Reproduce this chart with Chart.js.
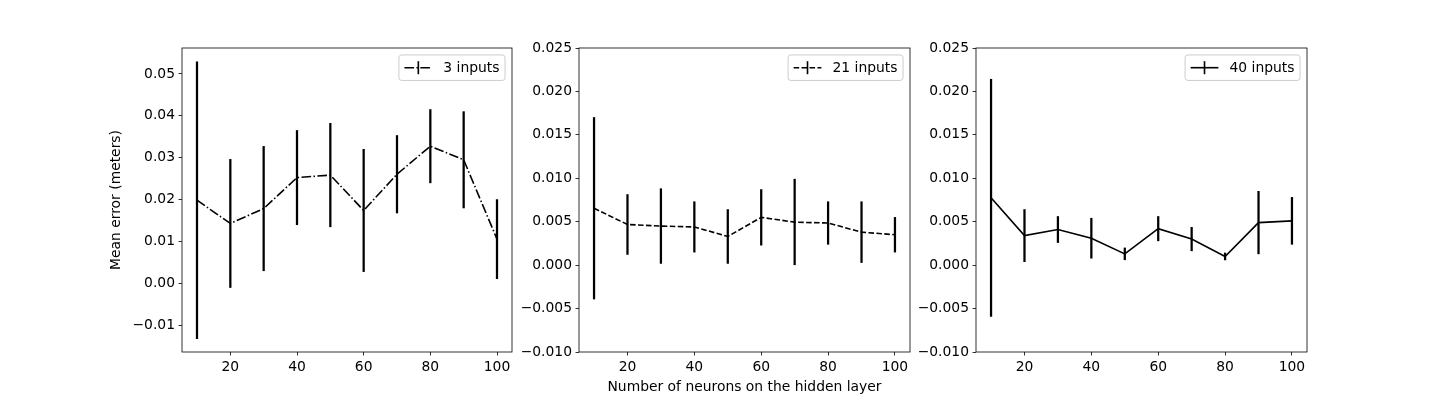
<!DOCTYPE html>
<html><head><meta charset="utf-8">
<script src="https://cdn.jsdelivr.net/npm/chart.js@4/dist/chart.umd.min.js"></script>
<style>
html,body{margin:0;padding:0;background:#fff;}
#wrap{position:relative;width:1452px;height:396px;background:#fff;}
#wrap canvas{position:absolute;left:0;top:0;}
</style></head><body><div id="wrap">
<canvas id="c1" width="1452" height="396"></canvas>
<canvas id="c2" width="1452" height="396"></canvas>
<canvas id="c3" width="1452" height="396"></canvas>
</div>
<script>
// ---- data ----
const neurons = [10, 20, 30, 40, 50, 60, 70, 80, 90, 100];

const mean3  = [0.01985, 0.0143, 0.01785, 0.02525, 0.02585, 0.0174, 0.02605, 0.03275, 0.0295, 0.01055];
const err3   = [0.03305, 0.0153, 0.01485, 0.01125, 0.01235, 0.0146, 0.00925, 0.00875, 0.0115, 0.00945];

const mean21 = [0.00655, 0.00468, 0.0045, 0.0044, 0.0033, 0.0055, 0.00495, 0.00485, 0.0038, 0.0035];
const err21  = [0.01045, 0.00345, 0.0043, 0.0029, 0.0031, 0.0032, 0.00495, 0.00245, 0.0035, 0.0020];

const mean40 = [0.00775, 0.0034, 0.0041, 0.0031, 0.0013, 0.0042, 0.0030, 0.0010, 0.0049, 0.0051];
const err40  = [0.01365, 0.0030, 0.0015, 0.0023, 0.00068, 0.0014, 0.00135, 0.0004, 0.0036, 0.0027];

const xTicks = [20, 40, 60, 80, 100];
const yTicks3 = [-0.01, 0.00, 0.01, 0.02, 0.03, 0.04, 0.05];
const yTicksWide = [-0.010, -0.005, 0.000, 0.005, 0.010, 0.015, 0.020, 0.025];

const labels = ['3 inputs', '21 inputs', '40 inputs'];
const yTitle = 'Mean error (meters)';
const xTitle = 'Number of neurons on the hidden layer';

// ---- helpers ----
const FS = 13.89;
const FONT = {family: 'DejaVu Sans', size: FS};
const fmt = (v, d) => (v < 0 ? '\u2212' : '') + Math.abs(v).toFixed(d);

const framePlugin = {
  id: 'frame',
  afterDraw(chart) {
    const {ctx, chartArea: a} = chart;
    ctx.save();
    ctx.strokeStyle = '#000';
    ctx.lineWidth = 0.8;
    ctx.strokeRect(a.left, a.top, a.right - a.left, a.bottom - a.top);
    ctx.restore();
  }
};

const legendPlugin = {
  id: 'mplLegend',
  afterDraw(chart, args, opts) {
    const {ctx, chartArea: a} = chart;
    ctx.save();
    ctx.font = FS + 'px "DejaVu Sans"';
    const tw = ctx.measureText(opts.label).width;
    const pad = 0.4 * FS, hl = 2.0 * FS, htp = 0.8 * FS;
    const w = pad + hl + htp + tw + pad;
    const h = 25.5;
    const right = a.right - 0.5 * FS;
    const left = right - w;
    const top = a.top + 0.5 * FS;
    const r = 2.8;
    ctx.beginPath();
    ctx.moveTo(left + r, top);
    ctx.lineTo(right - r, top);
    ctx.arcTo(right, top, right, top + r, r);
    ctx.lineTo(right, top + h - r);
    ctx.arcTo(right, top + h, right - r, top + h, r);
    ctx.lineTo(left + r, top + h);
    ctx.arcTo(left, top + h, left, top + h - r, r);
    ctx.lineTo(left, top + r);
    ctx.arcTo(left, top, left + r, top, r);
    ctx.closePath();
    ctx.fillStyle = 'rgba(255,255,255,0.8)';
    ctx.fill();
    ctx.strokeStyle = '#cccccc';
    ctx.lineWidth = 1;
    ctx.stroke();
    const cy = top + h / 2;
    const hx0 = left + pad, hx1 = hx0 + hl;
    ctx.strokeStyle = '#000';
    ctx.lineWidth = 1.6;
    ctx.setLineDash(opts.dash);
    ctx.beginPath(); ctx.moveTo(hx0, cy); ctx.lineTo(hx1, cy); ctx.stroke();
    ctx.setLineDash([]);
    const mx = (hx0 + hx1) / 2;
    ctx.beginPath(); ctx.moveTo(mx, cy - 6.5); ctx.lineTo(mx, cy + 6.5); ctx.stroke();
    ctx.fillStyle = '#000';
    ctx.textBaseline = 'middle';
    ctx.textAlign = 'left';
    ctx.fillText(opts.label, hx1 + htp, cy + 0.5);
    ctx.restore();
  }
};

function makePanel(id, axL, axR, mean, err, yMin, yMax, yTicks, dec, dash, label, showY, showX) {
  const grid = {drawOnChartArea: false, drawTicks: true, tickLength: 3.5, color: '#000', lineWidth: 0.8, offset: false};
  return new Chart(document.getElementById(id), {
    type: 'line',
    data: {
      datasets: [
        {
          type: 'line',
          data: neurons.map((x, i) => ({x: x, y: mean[i]})),
          borderColor: '#000',
          borderWidth: 1.6,
          borderDash: dash,
          pointRadius: 0,
          tension: 0,
          fill: false,
          order: 0
        },
        {
          type: 'bar',
          data: neurons.map((x, i) => ({x: x, y: [mean[i] - err[i], mean[i] + err[i]]})),
          backgroundColor: '#000',
          borderWidth: 0,
          barThickness: 1.6,
          order: 1
        }
      ]
    },
    options: {
      responsive: false,
      devicePixelRatio: 1,
      animation: false,
      layout: {padding: {left: axL - 80, right: 1452 - axR, top: 48, bottom: 0}},
      plugins: {
        legend: {display: false},
        tooltip: {enabled: false},
        mplLegend: {label: label, dash: dash}
      },
      scales: {
        x: {
          type: 'linear', min: 5.5, max: 104.5, offset: false,
          afterBuildTicks: s => { s.ticks = xTicks.map(v => ({value: v})); },
          afterFit: s => { s.height = 44; },
          ticks: {color: '#000', font: FONT, padding: 3.5, maxRotation: 0, autoSkip: false, callback: v => String(v)},
          grid: grid,
          border: {display: false},
          title: {display: showX, text: xTitle, color: '#000', font: FONT, padding: {top: 0, bottom: 0}}
        },
        y: {
          type: 'linear', min: yMin, max: yMax,
          afterBuildTicks: s => { s.ticks = yTicks.map(v => ({value: v})); },
          afterFit: s => { s.width = 80; },
          ticks: {color: '#000', font: FONT, padding: 3.5, autoSkip: false, callback: v => fmt(v, dec)},
          grid: grid,
          border: {display: false},
          title: {display: showY, text: yTitle, color: '#000', font: FONT, padding: {top: 6, bottom: 0}}
        }
      }
    },
    plugins: [framePlugin, legendPlugin]
  });
}

makePanel('c1', 182, 512, mean3, err3, -0.0164, 0.0562, yTicks3, 2, [9.6, 2.4, 1.5, 2.4], labels[0], true, false);
makePanel('c2', 579, 910, mean21, err21, -0.010, 0.025, yTicksWide, 3, [5.55, 2.4], labels[1], false, true);
makePanel('c3', 976, 1307, mean40, err40, -0.010, 0.025, yTicksWide, 3, [], labels[2], false, false);
</script>
</body></html>
